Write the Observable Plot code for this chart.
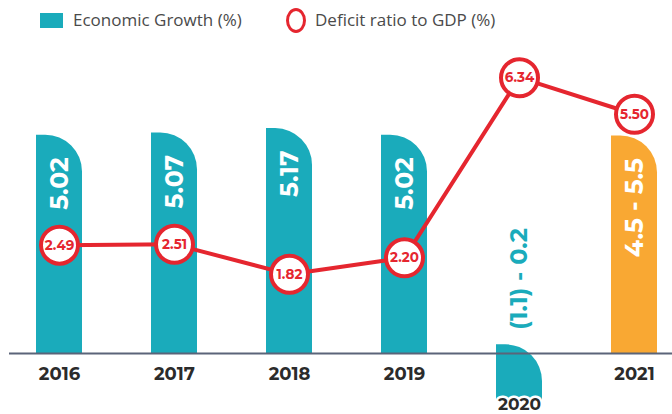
<!DOCTYPE html>
<html>
<head>
<meta charset="utf-8">
<script src="https://cdn.jsdelivr.net/npm/d3@7"></script>
<script src="https://cdn.jsdelivr.net/npm/@observablehq/plot@0.6"></script>
<style>
  html, body { margin: 0; padding: 0; background: #fff; }
  #wrap { position: relative; width: 672px; height: 414px; overflow: hidden; }
  #legend { position: absolute; left: 0; top: 0; width: 672px; height: 40px; font-family: "Open Sans", Lato, sans-serif; font-size: 17px; color: #4a4a4a; }
  .sw { position: absolute; }
  .lt { position: absolute; white-space: nowrap; }
</style>
</head>
<body>
<div id="wrap">
  <div id="chart"></div>
  <div id="legend">
    <div class="sw" style="left:40px;top:13px;width:23px;height:15px;background:#1aabbb;"></div>
    <div class="lt" style="left:73px;top:8px;">Economic Growth (%)</div>
    <div class="sw" style="left:286px;top:8px;width:14px;height:19px;border:3px solid #e5262f;border-radius:50%;"></div>
    <div class="lt" style="left:315px;top:8px;">Deficit ratio to GDP (%)</div>
  </div>
</div>
<script>
// ---- data ----
const years = ["2016", "2017", "2018", "2019", "2020", "2021"];
const growthLow = [5.02, 5.07, 5.17, 5.02, -1.1, 4.5];
const growthHigh = [5.02, 5.07, 5.17, 5.02, 0.2, 5.5];
const growthLabels = ["5.02", "5.07", "5.17", "5.02", "(1.1) - 0.2", "4.5 - 5.5"];
const forecast = [false, false, false, false, false, true];
const deficit = [2.49, 2.51, 1.82, 2.20, 6.34, 5.50];

const TEAL = "#1aabbb", ORANGE = "#f9a833", RED = "#e5262f", DARK = "#2b2b2b";
const FONT = "Montserrat, Lato, sans-serif";

const rows = years.map((year, i) => {
  const lo = growthLow[i], hi = growthHigh[i];
  const neg = lo < 0;
  return {
    year,
    bottom: neg ? lo : 0,
    top: neg ? hi : (lo + hi) / 2,
    neg,
    label: growthLabels[i],
    color: forecast[i] ? ORANGE : TEAL,
    deficit: deficit[i]
  };
});

// custom rounded-corner bars drawn through Plot's scales
function roundedBars(data) {
  return (index, scales) => {
    const x = scales.x, y = scales.y;
    const bw = typeof x.bandwidth === "function" ? x.bandwidth() : (scales.scales && scales.scales.x.bandwidth);
    const g = d3.create("svg:g");
    for (const d of data) {
      const x0 = x(d.year), w = bw;
      const yt = y(d.top), yb = y(d.bottom);
      const h = yb - yt;
      const r = Math.min(w * 0.8, h * 0.65);
      const p = `M${x0},${yb}V${yt}H${x0 + w - r}A${r},${r} 0 0 1 ${x0 + w},${yt + r}V${yb}Z`;
      g.append("path").attr("d", p).attr("fill", d.color);
    }
    return g.node();
  };
}

const posRows = rows.filter(d => !d.neg);
const negRows = rows.filter(d => d.neg);

const chart = Plot.plot({
  width: 672,
  height: 414,
  marginLeft: 9,
  marginRight: 0,
  marginTop: 0,
  marginBottom: 0,
  x: { type: "band", domain: years, paddingInner: 0.6, paddingOuter: 0.1727, align: 0.653, axis: null },
  y: { domain: [0, 6], range: [353, 92], axis: null },
  style: { background: "transparent", fontFamily: FONT },
  marks: [
    roundedBars(rows),
    Plot.ruleY([0], { stroke: "#5b6479", strokeWidth: 2 }),
    // growth labels inside bars
    Plot.text(posRows, {
      x: "year", y: "top", text: "label", rotate: -90, textAnchor: "end", dy: 22,
      fill: "white", fontSize: 25, fontWeight: 700, fontFamily: FONT
    }),
    // label above the negative-range bar
    Plot.text(negRows, {
      x: "year", y: "top", text: "label", rotate: -90, textAnchor: "start", dy: -15,
      fill: TEAL, fontSize: 24, fontWeight: 700, fontFamily: FONT
    }),
    // year labels
    Plot.text(posRows, {
      x: "year", y: "bottom", text: "year", lineAnchor: "top", dy: 14,
      fill: DARK, fontSize: 18, fontWeight: 700, fontFamily: FONT
    }),
    Plot.text(negRows, {
      x: "year", y: "bottom", text: "year", lineAnchor: "top", dy: -3,
      fill: DARK, stroke: "white", strokeWidth: 5, fontSize: 17, fontWeight: 700, fontFamily: FONT
    }),
    // deficit line
    Plot.line(rows, { x: "year", y: "deficit", stroke: RED, strokeWidth: 4 }),
    Plot.dot(rows, { x: "year", y: "deficit", r: 18.5, fill: "white", stroke: RED, strokeWidth: 4 }),
    Plot.text(rows, {
      x: "year", y: "deficit", text: d => d.deficit.toFixed(2),
      fill: RED, fontSize: 13.5, fontWeight: 700, fontFamily: FONT
    })
  ]
});
document.getElementById("chart").appendChild(chart);
</script>
</body>
</html>
